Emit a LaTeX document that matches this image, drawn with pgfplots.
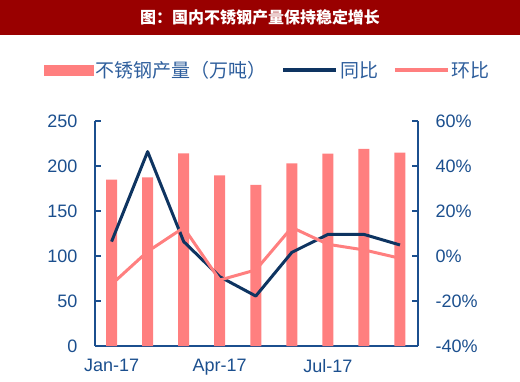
\documentclass[border=0pt]{standalone}
\usepackage{pgfplots}
\pgfplotsset{compat=1.18}
\usepackage{fontspec}
\setmainfont{Liberation Sans}
\newfontfamily\cjk{Noto Sans CJK SC}
\definecolor{salmon}{HTML}{FF7F7F}
\definecolor{navy}{HTML}{0E3461}
\definecolor{axblue}{HTML}{1B4F8E}
\definecolor{legblue}{HTML}{2E5E9C}
\definecolor{titlered}{HTML}{990000}
\begin{document}
\begin{tikzpicture}[x=1pt,y=1pt]
\path[use as bounding box] (0,0) rectangle (520,381);
\fill[titlered] (0,346) rectangle (520,381);
\node[text=white, font=\cjk\bfseries\fontsize{16}{18}\selectfont] at (260,364) {图：国内不锈钢产量保持稳定增长};
\pgfplotsset{
  common/.style={
    at={(95pt,35pt)}, anchor=south west, width=323pt, height=225pt, scale only axis,
    xmin=-0.46, xmax=8.5,
    axis line style={-, axblue, line width=2.6pt},
    tick align=inside, major tick length=6pt,
    ytick style={axblue, line width=2pt},
    xtick style={draw=none},
    tick label style={font=\fontsize{18}{20}\selectfont, text=axblue},
    xticklabel style={yshift=-4pt},
    /pgf/number format/assume math mode=true,
    clip=false,
  }
}
\begin{axis}[common,
  ymin=0, ymax=250, ytick={0,50,...,250},
  axis y line*=left, axis x line*=bottom,
  yticklabel style={xshift=-14pt},
  xtick={0,3,6}, xticklabels={Jan-17,Apr-17,Jul-17},
  ybar, bar width=11pt,
]
\addplot[fill=salmon, draw=none] coordinates {
 (0,185) (1,187.4) (2,214) (3,189.6) (4,179) (5,203) (6,213.7) (7,219) (8,215)};
\end{axis}
\begin{axis}[common,
  ymin=-40, ymax=60, ytick={-40,-20,...,60},
  axis y line*=right, axis x line=none,
  yticklabel style={xshift=14pt},
  yticklabel={\pgfmathprintnumber{\tick}\%},
  legend style={at={(0.535,1.227)}, anchor=center, draw=none, fill=none,
    legend columns=3, font=\cjk\fontsize{19}{21}\selectfont, text=legblue,
    /tikz/every even column/.append style={column sep=13pt}},
]
\addlegendimage{legend image code/.code={\fill[salmon] (0pt,-5pt) rectangle (49pt,5pt);}}
\addlegendentry{不锈钢产量（万吨）}
\addplot[navy, line width=3pt, line join=round,
  legend image code/.code={\draw[navy, line width=3.5pt] (0pt,0pt) -- (53pt,0pt);}] coordinates {
 (0,6.4) (1,46.4) (2,6.4) (3,-9.2) (4,-17.8) (5,1.6) (6,9.6) (7,9.6) (8,4.9)};
\addlegendentry{同比}
\addplot[salmon, line width=3pt, line join=round,
  legend image code/.code={\draw[salmon, line width=3.5pt] (0pt,0pt) -- (53pt,0pt);}] coordinates {
 (0,-12.6) (1,2.0) (2,12.6) (3,-10.7) (4,-6.2) (5,12.7) (6,5.2) (7,2.7) (8,-1.0)};
\addlegendentry{环比}
\end{axis}
\end{tikzpicture}
\end{document}
